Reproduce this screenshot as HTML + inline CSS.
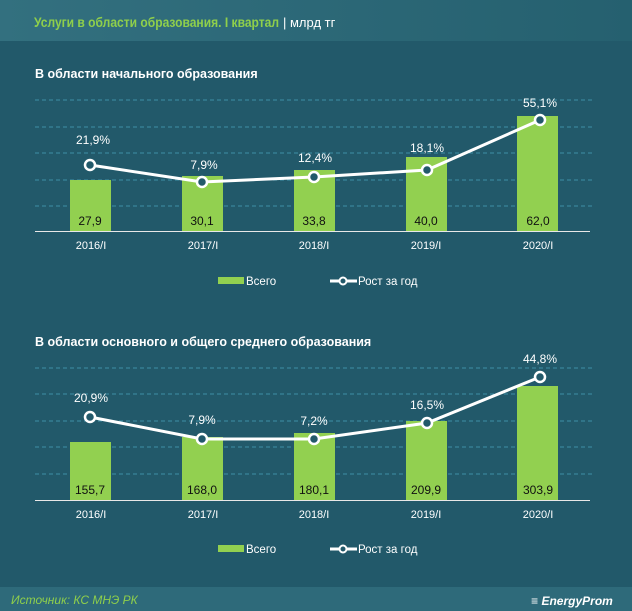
<!DOCTYPE html>
<html><head><meta charset="utf-8"><style>
body{margin:0;width:632px;height:611px;overflow:hidden;background:#22596a}
svg{display:block}
text{font-family:"Liberation Sans Narrow","Liberation Sans",sans-serif}
.v{fill:#111111}
</style></head><body>
<svg width="632" height="611" xmlns="http://www.w3.org/2000/svg">
<defs><linearGradient id="h" x1="0" x2="1"><stop offset="0" stop-color="#33707f"/><stop offset="1" stop-color="#25606f"/></linearGradient></defs>
<rect width="632" height="611" fill="#22596a"/>
<rect width="632" height="41" fill="url(#h)"/>
<text x="34" y="27" font-size="14" font-weight="bold" fill="#8fcf4b" textLength="245" lengthAdjust="spacingAndGlyphs">Услуги в области образования. I квартал</text>
<text x="283" y="27" font-size="13" fill="#ffffff">| млрд тг</text>
<rect y="587" width="632" height="24" fill="#2e6a7a"/>
<text x="11" y="604" font-size="12" font-style="italic" fill="#8fcf4b">Источник: КС МНЭ РК</text>
<text x="572" y="605" font-size="12" font-style="italic" font-weight="bold" fill="#fff" text-anchor="middle">≡ EnergyProm</text>

<g fill="#fff" font-size="12.5" font-weight="bold">
<text x="35" y="78">В области  начального  образования</text>
<text x="35" y="346">В области  основного  и общего среднего образования</text>
</g>

<g stroke="#3f8fa5" stroke-dasharray="4,3" stroke-width="1">
<line x1="35" x2="592" y1="100" y2="100"/><line x1="35" x2="592" y1="127" y2="127"/><line x1="35" x2="592" y1="153" y2="153"/><line x1="35" x2="592" y1="180" y2="180"/><line x1="35" x2="592" y1="206" y2="206"/>
<line x1="35" x2="592" y1="368" y2="368"/><line x1="35" x2="592" y1="394" y2="394"/><line x1="35" x2="592" y1="421" y2="421"/><line x1="35" x2="592" y1="447" y2="447"/><line x1="35" x2="592" y1="474" y2="474"/>
</g>

<g fill="#92d050">
<rect x="70" y="180" width="41" height="51"/><rect x="182" y="176" width="41" height="55"/><rect x="294" y="170" width="41" height="61"/><rect x="406" y="157" width="41" height="74"/><rect x="517" y="116" width="41" height="115"/>
<rect x="70" y="442" width="41" height="58"/><rect x="182" y="437" width="41" height="63"/><rect x="294" y="433" width="41" height="67"/><rect x="406" y="421" width="41" height="79"/><rect x="517" y="386" width="41" height="114"/>
</g>
<line x1="35" x2="590" y1="231.5" y2="231.5" stroke="#e8e8e8"/>
<line x1="35" x2="590" y1="500.5" y2="500.5" stroke="#e8e8e8"/>

<g font-size="12" text-anchor="middle">
<text class="v" x="90" y="225">27,9</text><text class="v" x="202" y="225">30,1</text><text class="v" x="314" y="225">33,8</text><text class="v" x="426" y="225">40,0</text><text class="v" x="538" y="225">62,0</text>
<text class="v" x="90" y="494">155,7</text><text class="v" x="202" y="494">168,0</text><text class="v" x="314" y="494">180,1</text><text class="v" x="426" y="494">209,9</text><text class="v" x="538" y="494">303,9</text>
</g>

<g fill="none" stroke="#fff" stroke-width="3">
<polyline points="90,165 202,182 314,177 427,170 540,120"/>
<polyline points="90,417 202,439 314,439 427,423 540,377"/>
</g>
<g fill="#22596a" stroke="#fff" stroke-width="2.5">
<circle cx="90" cy="165" r="5"/><circle cx="202" cy="182" r="5"/><circle cx="314" cy="177" r="5"/><circle cx="427" cy="170" r="5"/><circle cx="540" cy="120" r="5"/>
<circle cx="90" cy="417" r="5"/><circle cx="202" cy="439" r="5"/><circle cx="314" cy="439" r="5"/><circle cx="427" cy="423" r="5"/><circle cx="540" cy="377" r="5"/>
</g>

<g font-size="12" fill="#fff" text-anchor="middle">
<text x="93" y="144">21,9%</text><text x="204" y="169">7,9%</text><text x="315" y="162">12,4%</text><text x="427" y="152">18,1%</text><text x="540" y="107">55,1%</text>
<text x="91" y="402">20,9%</text><text x="202" y="424">7,9%</text><text x="314" y="425">7,2%</text><text x="427" y="409">16,5%</text><text x="540" y="363">44,8%</text>
</g>

<g font-size="11" fill="#fff" text-anchor="middle">
<text x="91" y="249">2016/I</text><text x="203" y="249">2017/I</text><text x="314" y="249">2018/I</text><text x="426" y="249">2019/I</text><text x="538" y="249">2020/I</text>
<text x="91" y="518">2016/I</text><text x="203" y="518">2017/I</text><text x="314" y="518">2018/I</text><text x="426" y="518">2019/I</text><text x="538" y="518">2020/I</text>
</g>

<g font-size="11.5" fill="#fff">
<rect x="218" y="277" width="26" height="7" fill="#92d050"/><text x="246" y="285">Всего</text>
<line x1="330" x2="357" y1="281" y2="281" stroke="#fff" stroke-width="3"/><circle cx="343" cy="281" r="3.5" fill="#22596a" stroke="#fff" stroke-width="2"/><text x="358" y="285">Рост за год</text>
<rect x="218" y="545" width="26" height="7" fill="#92d050"/><text x="246" y="553">Всего</text>
<line x1="330" x2="357" y1="549" y2="549" stroke="#fff" stroke-width="3"/><circle cx="343" cy="549" r="3.5" fill="#22596a" stroke="#fff" stroke-width="2"/><text x="358" y="553">Рост за год</text>
</g>
</svg>
</body></html>
